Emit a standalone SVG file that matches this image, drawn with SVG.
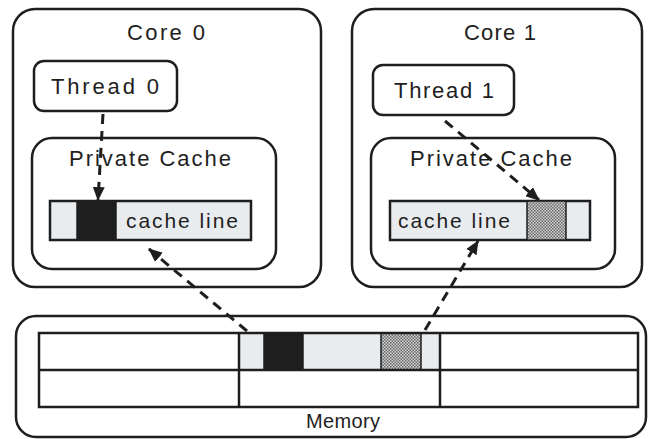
<svg xmlns="http://www.w3.org/2000/svg" width="649" height="439" viewBox="0 0 649 439">
<defs>
<style>
.box{fill:#fff;stroke:#1e1e1e;stroke-width:2.5}
.bar{fill:#e9ecef;stroke:#1e1e1e;stroke-width:2.5}
.dark{fill:#1e1e1e;stroke:#1e1e1e;stroke-width:1.5}
.hatch{fill:url(#chk);stroke:#1e1e1e;stroke-width:1.5}
.cell{fill:none;stroke:#1e1e1e;stroke-width:2.5}
.t{font-family:"Liberation Sans","DejaVu Sans",sans-serif;fill:#1e1e1e;text-anchor:middle}
.conn{fill:none;stroke:#1e1e1e;stroke-width:3;stroke-dasharray:10 7}
</style>
<pattern id="chk" width="3" height="3" patternUnits="userSpaceOnUse">
<rect width="3" height="3" fill="#d0d0d0"/>
<rect width="1.5" height="1.5" fill="#6a6a6a"/>
<rect x="1.5" y="1.5" width="1.5" height="1.5" fill="#6a6a6a"/>
</pattern>
<marker id="ah" viewBox="0 0 14 12" refX="13" refY="6" markerWidth="14" markerHeight="12" orient="auto" markerUnits="userSpaceOnUse">
<path d="M0,0 L14,6 L0,12 z" fill="#1e1e1e"/>
</marker>
</defs>

<g id="core0">
<rect class="box" x="13" y="9" width="308" height="278" rx="22"/>
<text class="t" x="166" y="40" font-size="22" textLength="78" lengthAdjust="spacing">Core 0</text>
</g>
<g id="thread0">
<rect class="box" x="34" y="61" width="143" height="50" rx="10"/>
<text class="t" x="105" y="94" font-size="22" textLength="108" lengthAdjust="spacing">Thread 0</text>
</g>
<g id="cache0">
<rect class="box" x="32" y="138" width="244" height="131" rx="20"/>
<text class="t" x="150" y="166" font-size="22" textLength="162" lengthAdjust="spacing">Private Cache</text>
<rect class="bar" x="50" y="201" width="201" height="39"/>
<rect class="dark" x="77" y="201" width="39" height="39"/>
<text class="t" x="182" y="228" font-size="21" textLength="112" lengthAdjust="spacing">cache line</text>
</g>

<g id="core1">
<rect class="box" x="352" y="9" width="290" height="278" rx="22"/>
<text class="t" x="500" y="40" font-size="22" textLength="72" lengthAdjust="spacing">Core 1</text>
</g>
<g id="thread1">
<rect class="box" x="373" y="65" width="141" height="50" rx="10"/>
<text class="t" x="444" y="98" font-size="22" textLength="100" lengthAdjust="spacing">Thread 1</text>
</g>
<g id="cache1">
<rect class="box" x="371" y="138" width="244" height="131" rx="20"/>
<text class="t" x="491" y="166" font-size="22" textLength="162" lengthAdjust="spacing">Private Cache</text>
<rect class="bar" x="390" y="201" width="200" height="39"/>
<rect class="hatch" x="527" y="201" width="39" height="39"/>
<text class="t" x="454" y="228" font-size="21" textLength="112" lengthAdjust="spacing">cache line</text>
</g>

<g id="memory">
<rect class="box" x="16" y="316" width="630" height="121" rx="20"/>
<rect class="bar" x="239" y="333" width="201" height="37" style="stroke:none"/>
<rect class="dark" x="264" y="333" width="39" height="37"/>
<rect class="hatch" x="381" y="333" width="40" height="37"/>
<rect class="cell" x="39" y="333" width="599" height="74"/>
<line class="cell" x1="39" y1="370" x2="638" y2="370"/>
<line class="cell" x1="239" y1="333" x2="239" y2="407"/>
<line class="cell" x1="440" y1="333" x2="440" y2="407"/>
<text class="t" x="343" y="428" font-size="20" textLength="74" lengthAdjust="spacing">Memory</text>
</g>

<g id="connectors">
<path class="conn" marker-end="url(#ah)" d="M103,114 L98,200"/>
<path class="conn" marker-end="url(#ah)" d="M445,121 L539,200"/>
<path class="conn" marker-end="url(#ah)" d="M247,331 L149,249"/>
<path class="conn" marker-end="url(#ah)" d="M425,330 L478,241"/>
</g>
</svg>
